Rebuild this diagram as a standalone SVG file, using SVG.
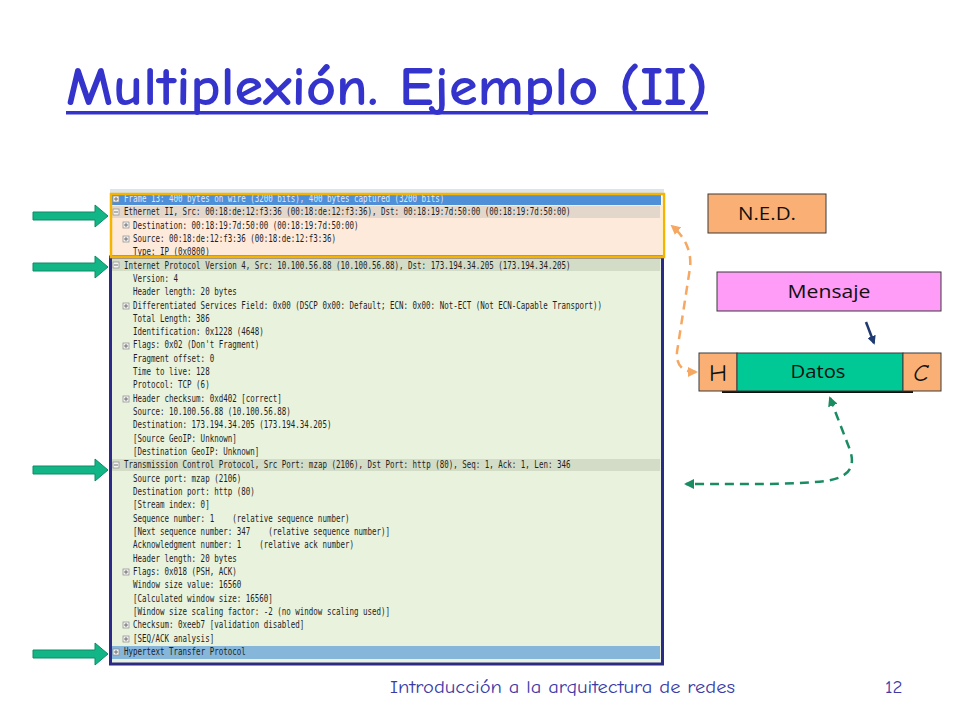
<svg xmlns="http://www.w3.org/2000/svg" width="960" height="720" viewBox="0 0 960 720">
<defs>
<style>
.pk{font-family:"DejaVu Sans Mono","Liberation Mono",monospace;font-size:10px;fill:#1e1e1e;white-space:pre}
.box{stroke:#3a3a3a;stroke-width:1}
.lbl{font-family:"Open Sans","Liberation Sans",sans-serif;font-size:18px;fill:#111;text-anchor:middle}
.ga{fill:#12b585;stroke:#0d8c66;stroke-width:1}
.cm{font-family:"Comic Neue","Liberation Sans",sans-serif}
</style>
<g id="plus"><rect x="-3" y="-3" width="6" height="6" fill="#f4f4f4" stroke="#8a8a8a" stroke-width="0.7"/><path d="M-2 0H2M0 -2V2" stroke="#555" stroke-width="0.8"/></g>
<g id="minus"><rect x="-3" y="-3" width="6" height="6" fill="#f4f4f4" stroke="#8a8a8a" stroke-width="0.7"/><path d="M-2 0H2" stroke="#555" stroke-width="0.8"/></g>
<marker id="ao" viewBox="0 0 10 10" refX="8" refY="5" markerWidth="4" markerHeight="4" orient="auto-start-reverse"><path d="M0 0L10 5L0 10z" fill="#f6a862"/></marker>
<marker id="ag" viewBox="0 0 10 10" refX="8" refY="5" markerWidth="4" markerHeight="4" orient="auto-start-reverse"><path d="M0 0L10 5L0 10z" fill="#1a8c62"/></marker>
<marker id="an" viewBox="0 0 10 10" refX="8" refY="5" markerWidth="3.5" markerHeight="3.5" orient="auto"><path d="M0 0L10 5L0 10z" fill="#1f3a70"/></marker>
</defs>
<rect width="960" height="720" fill="#ffffff"/>

<g id="title">
<text class="cm" x="66" y="105" font-size="54" font-weight="700" fill="#3434cc" textLength="642" lengthAdjust="spacingAndGlyphs">Multiplexión. Ejemplo (II)</text>
<rect x="66" y="111" width="642" height="3.5" fill="#3434cc"/>
</g>

<g id="packet-panel">
<rect x="110" y="189" width="554" height="6" fill="#dde3ea"/>
<rect x="112" y="194" width="549" height="11" fill="#4f8fd8"/>
<rect x="112" y="205" width="550" height="51" fill="#fdeadb"/>
<rect x="112" y="206" width="548" height="12" fill="#e3d7cb"/>
<rect x="112" y="258" width="549" height="405" fill="#e9f2dc"/>
<rect x="112" y="259" width="548" height="12" fill="#d3dcc6"/>
<rect x="112" y="459" width="548" height="12" fill="#d3dcc6"/>
<rect x="112" y="646" width="548" height="13" fill="#86b6da"/>
<use href="#plus" x="116" y="199"/>
<use href="#minus" x="116" y="212"/>
<use href="#plus" x="126" y="225"/>
<use href="#plus" x="126" y="239"/>
<use href="#minus" x="116" y="265"/>
<use href="#plus" x="126" y="306"/>
<use href="#plus" x="126" y="346"/>
<use href="#plus" x="126" y="399"/>
<use href="#minus" x="116" y="465"/>
<use href="#plus" x="126" y="572"/>
<use href="#plus" x="126" y="625"/>
<use href="#plus" x="126" y="639"/>
<use href="#plus" x="116" y="652"/>
<g transform="scale(0.75 1)" class="pk">
<text x="165.3" y="202" fill="#dfe8f5">Frame 13: 400 bytes on wire (3200 bits), 400 bytes captured (3200 bits)</text>
<text x="165.3" y="215.3">Ethernet II, Src: 00:18:de:12:f3:36 (00:18:de:12:f3:36), Dst: 00:18:19:7d:50:00 (00:18:19:7d:50:00)</text>
<text x="177.3" y="228.6">Destination: 00:18:19:7d:50:00 (00:18:19:7d:50:00)</text>
<text x="177.3" y="242">Source: 00:18:de:12:f3:36 (00:18:de:12:f3:36)</text>
<text x="177.3" y="255.3">Type: IP (0x0800)</text>
<text x="165.3" y="268.6">Internet Protocol Version 4, Src: 10.100.56.88 (10.100.56.88), Dst: 173.194.34.205 (173.194.34.205)</text>
<text x="177.3" y="281.9">Version: 4</text>
<text x="177.3" y="295.2">Header length: 20 bytes</text>
<text x="177.3" y="308.6">Differentiated Services Field: 0x00 (DSCP 0x00: Default; ECN: 0x00: Not-ECT (Not ECN-Capable Transport))</text>
<text x="177.3" y="321.9">Total Length: 386</text>
<text x="177.3" y="335.2">Identification: 0x1228 (4648)</text>
<text x="177.3" y="348.5">Flags: 0x02 (Don't Fragment)</text>
<text x="177.3" y="361.8">Fragment offset: 0</text>
<text x="177.3" y="375.2">Time to live: 128</text>
<text x="177.3" y="388.5">Protocol: TCP (6)</text>
<text x="177.3" y="401.8">Header checksum: 0xd402 [correct]</text>
<text x="177.3" y="415.1">Source: 10.100.56.88 (10.100.56.88)</text>
<text x="177.3" y="428.4">Destination: 173.194.34.205 (173.194.34.205)</text>
<text x="177.3" y="441.8">[Source GeoIP: Unknown]</text>
<text x="177.3" y="455.1">[Destination GeoIP: Unknown]</text>
<text x="165.3" y="468.4">Transmission Control Protocol, Src Port: mzap (2106), Dst Port: http (80), Seq: 1, Ack: 1, Len: 346</text>
<text x="177.3" y="481.7">Source port: mzap (2106)</text>
<text x="177.3" y="495">Destination port: http (80)</text>
<text x="177.3" y="508.4">[Stream index: 0]</text>
<text x="177.3" y="521.7">Sequence number: 1&#160;&#160;&#160;&#160;(relative sequence number)</text>
<text x="177.3" y="535">[Next sequence number: 347&#160;&#160;&#160;&#160;(relative sequence number)]</text>
<text x="177.3" y="548.3">Acknowledgment number: 1&#160;&#160;&#160;&#160;(relative ack number)</text>
<text x="177.3" y="561.6">Header length: 20 bytes</text>
<text x="177.3" y="575">Flags: 0x018 (PSH, ACK)</text>
<text x="177.3" y="588.3">Window size value: 16560</text>
<text x="177.3" y="601.6">[Calculated window size: 16560]</text>
<text x="177.3" y="614.9">[Window size scaling factor: -2 (no window scaling used)]</text>
<text x="177.3" y="628.2">Checksum: 0xeeb7 [validation disabled]</text>
<text x="177.3" y="641.6">[SEQ/ACK analysis]</text>
<text x="165.3" y="654.9">Hypertext Transfer Protocol</text>
</g>
<rect x="110.5" y="257" width="552" height="407" fill="none" stroke="#2b2a86" stroke-width="3"/>
<rect x="111" y="194" width="553" height="63" fill="none" stroke="#f5b400" stroke-width="2.5"/>
</g>

<g id="pointer-arrows">
<polygon class="ga" points="33,212 95,212 95,205 108,216 95,227 95,220 33,220"/>
<polygon class="ga" points="33,263 95,263 95,256 108,267 95,278 95,271 33,271"/>
<polygon class="ga" points="33,466 95,466 95,459 108,470 95,481 95,474 33,474"/>
<polygon class="ga" points="33,650 95,650 95,643 108,654 95,665 95,658 33,658"/>
</g>

<g id="ned">
<rect class="box" x="708" y="194" width="118" height="39" fill="#fab074"/>
<text class="lbl" x="767" y="220" textLength="58" lengthAdjust="spacingAndGlyphs">N.E.D.</text>
</g>

<g id="mensaje">
<rect class="box" x="717" y="272" width="224" height="39" fill="#ff9cf8"/>
<text class="lbl" x="829" y="298" textLength="83" lengthAdjust="spacingAndGlyphs">Mensaje</text>
</g>

<g id="trama">
<line x1="722" y1="392" x2="913" y2="392" stroke="#111" stroke-width="2"/>
<rect class="box" x="699" y="353" width="38" height="38" fill="#fab074"/>
<rect class="box" x="737" y="353" width="166" height="38" fill="#00c996"/>
<rect class="box" x="903" y="353" width="38" height="38" fill="#fab074"/>
<text class="cm" x="718" y="381" font-size="25" fill="#111" text-anchor="middle">H</text>
<text class="lbl" x="818" y="378" textLength="55" lengthAdjust="spacingAndGlyphs">Datos</text>
<text class="cm" x="921" y="381" font-size="25" font-style="italic" fill="#111" text-anchor="middle">C</text>
</g>

<g id="connectors">
<line x1="866" y1="322" x2="874" y2="343" stroke="#1f3a70" stroke-width="2.5" marker-end="url(#an)"/>
<path d="M696 372 C683 372 676 366 677 352 L690 268 C692 250 684 236 672 226" fill="none" stroke="#f6a862" stroke-width="2.5" stroke-dasharray="9 6" marker-start="url(#ao)" marker-end="url(#ao)"/>
<path d="M830 398 L850 450 C856 468 848 478 825 481 C790 485 740 484 686 484" fill="none" stroke="#1a8c62" stroke-width="2.5" stroke-dasharray="9 6" marker-start="url(#ag)" marker-end="url(#ag)"/>
</g>

<g id="footer">
<text class="cm" x="390" y="693" font-size="18" fill="#3b3ba6" textLength="345" lengthAdjust="spacingAndGlyphs">Introducción a la arquitectura de redes</text>
<text class="cm" x="885" y="693" font-size="19" fill="#3b3ba6">12</text>
</g>
</svg>
